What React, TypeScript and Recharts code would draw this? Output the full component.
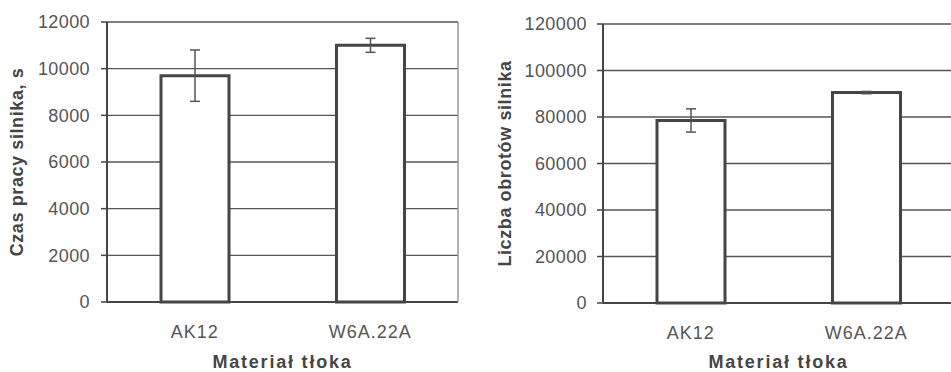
import { BarChart, Bar, XAxis, YAxis, CartesianGrid, ErrorBar, Label } from 'recharts'

const categories = ['AK12', 'W6A.22A']
const czasPracy = [9700, 11000]
const czasPracyErr = [1100, 300]
const obroty = [78500, 90500]
const obrotyErr = [5000, 500]
const czasTicks = [0, 2000, 4000, 6000, 8000, 10000, 12000]
const obrotyTicks = [0, 20000, 40000, 60000, 80000, 100000, 120000]

const FONT = '"Liberation Sans", Arial, sans-serif'
const DARK = '#454545'

type PanelProps = {
  values: number[]
  errors: number[]
  ticks: number[]
  yTitle: string
  yTitleX: number
  left: number
  width: number
  top: number
  axisWidth: number
  xAxisHeight: number
  tickMargin: number
  border: boolean
}

function Panel({ values, errors, ticks, yTitle, yTitleX, left, width, top, axisWidth, xAxisHeight, tickMargin, border }: PanelProps) {
  const data = categories.map((name, i) => ({ name, value: values[i], err: errors[i] }))
  return (
    <div style={{ position: 'absolute', left, top: 0 }}>
      <BarChart width={width} height={372} data={data} margin={{ top, right: border ? 0 : 6, bottom: 0, left: 0 }}>
        <CartesianGrid vertical={false} stroke="#555" strokeWidth={1.3} />
        <XAxis
          dataKey="name"
          height={xAxisHeight}
          tickLine={false}
          axisLine={{ stroke: DARK, strokeWidth: 2 }}
          tickMargin={17}
          tick={{ fill: '#555', fontSize: 18, fontFamily: FONT, letterSpacing: 1 }}
        >
          <Label
            content={({ viewBox }: any) => (
              <text
                x={viewBox.x + viewBox.width / 2}
                y={viewBox.y + viewBox.height - 4}
                textAnchor="middle"
                fill={DARK}
                fontSize={18}
                fontWeight="bold"
                fontFamily={FONT}
                letterSpacing={1.8}
              >
                Materiał tłoka
              </text>
            )}
          />
        </XAxis>
        <YAxis
          width={axisWidth}
          domain={[0, ticks[ticks.length - 1]]}
          ticks={ticks}
          interval={0}
          tickSize={6}
          tickMargin={tickMargin}
          tickLine={{ stroke: DARK, strokeWidth: 1.5 }}
          axisLine={{ stroke: DARK, strokeWidth: 2 }}
          tick={{ fill: '#555', fontSize: 18, fontFamily: FONT, letterSpacing: 0.4 }}
        >
          <Label
            content={({ viewBox }: any) => {
              const cx = viewBox.x + yTitleX
              const cy = viewBox.y + viewBox.height / 2
              return (
                <text
                  x={cx}
                  y={cy}
                  transform={`rotate(-90, ${cx}, ${cy})`}
                  textAnchor="middle"
                  dominantBaseline="central"
                  fill={DARK}
                  fontSize={18}
                  fontWeight="bold"
                  fontFamily={FONT}
                  letterSpacing={0.6}
                >
                  {yTitle}
                </text>
              )
            }}
          />
        </YAxis>
        {border && (
          <YAxis
            yAxisId="border"
            orientation="right"
            width={12}
            tick={false}
            tickLine={false}
            axisLine={{ stroke: '#999', strokeWidth: 1.5 }}
          />
        )}
        <Bar dataKey="value" fill="#fff" stroke={DARK} strokeWidth={3} barSize={68} isAnimationActive={false}>
          <ErrorBar dataKey="err" width={5} stroke="#555" strokeWidth={1.5} />
        </Bar>
      </BarChart>
    </div>
  )
}

export default function App() {
  return (
    <div style={{ position: 'fixed', left: 0, top: 0, width: 951, height: 372, overflow: 'hidden', background: '#fff' }}>
      <Panel
        values={czasPracy}
        errors={czasPracyErr}
        ticks={czasTicks}
        yTitle="Czas pracy silnika, s"
        yTitleX={17}
        left={0}
        width={470}
        top={22}
        axisWidth={107}
        xAxisHeight={70}
        tickMargin={11}
        border
      />
      <Panel
        values={obroty}
        errors={obrotyErr}
        ticks={obrotyTicks}
        yTitle="Liczba obrotów silnika"
        yTitleX={25}
        left={480}
        width={480}
        top={24}
        axisWidth={123}
        xAxisHeight={69}
        tickMargin={10}
        border={false}
      />
    </div>
  )
}
